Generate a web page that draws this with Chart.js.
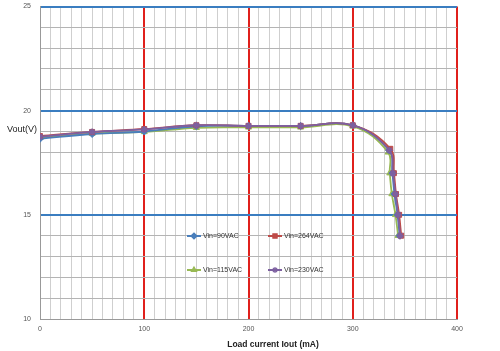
<!DOCTYPE html>
<html lang="en">
<head>
    <meta charset="UTF-8">
    <title>Vout vs Load current</title>
    <script src="https://cdn.jsdelivr.net/npm/chart.js@4.4.1/dist/chart.umd.min.js"></script>
    <style>
        html, body { margin: 0; padding: 0; background: #fff; }
        .chart-box { width: 500px; height: 351px; }
    </style>
</head>
<body>
    <div class="chart-box">
        <canvas id="voutChart"></canvas>
    </div>

    <script>
        // load current (mA) and output voltage (V) per input voltage
        const iout90 = [0, 50, 100, 150, 200, 250, 300, 335, 338, 340, 343, 345];
        const vout90 = [18.65, 18.88, 19.0, 19.25, 19.27, 19.27, 19.3, 18.1, 17.0, 16.0, 15.0, 14.0];
        const iout264 = [0, 50, 100, 150, 200, 250, 300, 336, 339.5, 341.5, 344.5, 346.5];
        const vout264 = [18.78, 18.98, 19.12, 19.3, 19.27, 19.27, 19.3, 18.17, 17.0, 16.0, 15.0, 14.0];
        const iout115 = [0, 50, 100, 150, 200, 250, 300, 334, 335.5, 337.5, 341, 343.5];
        const vout115 = [18.7, 18.9, 18.98, 19.18, 19.2, 19.2, 19.25, 18.0, 17.0, 16.0, 15.0, 14.0];
        const iout230 = [0, 50, 100, 150, 200, 250, 300, 335, 338.5, 341, 343.5, 345.5];
        const vout230 = [18.75, 18.98, 19.1, 19.3, 19.27, 19.27, 19.3, 18.1, 17.0, 16.0, 15.0, 14.0];
        const seriesLabels = ['Vin=90VAC', 'Vin=264VAC', 'Vin=115VAC', 'Vin=230VAC'];
        const xTicks = [0, 100, 200, 300, 400];
        const yTicks = [10, 15, 20, 25];

        function pts(xs, ys) {
            return xs.map((x, i) => ({ x: x, y: ys[i] }));
        }

        const styles = [
            { color: '#4a7ebb', point: 'rectRot', r: 3.5, order: 2 },
            { color: '#be4b48', point: 'rect', r: 3.5, order: 1 },
            { color: '#98b954', point: 'triangle', r: 3.5, order: 3 },
            { color: '#7d60a0', point: 'star', r: 3.5, order: 0 }
        ];
        const seriesData = [pts(iout90, vout90), pts(iout264, vout264), pts(iout115, vout115), pts(iout230, vout230)];

        const datasets = seriesData.map((d, i) => ({
            label: seriesLabels[i],
            data: d,
            borderColor: styles[i].color,
            backgroundColor: styles[i].color,
            pointStyle: styles[i].point,
            pointRadius: styles[i].r,
            pointBorderWidth: styles[i].point === 'star' ? 1.5 : 1,
            borderWidth: 1.8,
            tension: 0.4,
            order: styles[i].order
        }));

        // horizontal y title, x title and the 2x2 legend inside the plot
        const extras = {
            id: 'extras',
            afterDraw(chart) {
                const ctx = chart.ctx;
                ctx.save();
                ctx.fillStyle = '#222';
                ctx.font = '9px "Liberation Sans", Arial, sans-serif';
                ctx.textAlign = 'left';
                ctx.textBaseline = 'middle';
                ctx.fillText('Vout(V)', 7, 130);

                ctx.font = 'bold 8.5px "Liberation Sans", Arial, sans-serif';
                ctx.textAlign = 'center';
                ctx.fillText('Load current Iout (mA)', 273, 345);

                const spots = [[187, 236], [268, 236], [187, 270], [268, 270]];
                ctx.font = '7px "Liberation Sans", Arial, sans-serif';
                ctx.textAlign = 'left';
                spots.forEach((p, i) => {
                    const s = styles[i];
                    ctx.strokeStyle = s.color;
                    ctx.lineWidth = 2;
                    ctx.beginPath();
                    ctx.moveTo(p[0], p[1]);
                    ctx.lineTo(p[0] + 14, p[1]);
                    ctx.stroke();
                    ctx.fillStyle = s.color;
                    ctx.lineWidth = 1.2;
                    Chart.helpers.drawPoint(ctx, {
                        pointStyle: s.point, radius: 3, borderWidth: 1.2, rotation: 0
                    }, p[0] + 7, p[1]);
                    ctx.fillStyle = '#333';
                    ctx.fillText(seriesLabels[i], p[0] + 16, p[1] + 0.5);
                });
                ctx.restore();
            }
        };

        const ctx = document.getElementById('voutChart').getContext('2d');
        new Chart(ctx, {
            type: 'line',
            data: { datasets: datasets },
            plugins: [extras],
            options: {
                responsive: true,
                maintainAspectRatio: false,
                animation: false,
                layout: { padding: { top: 6.5, right: 43, left: 0, bottom: 0 } },
                plugins: { legend: { display: false }, tooltip: { enabled: false } },
                scales: {
                    x: {
                        type: 'linear',
                        min: 0,
                        max: 400,
                        afterFit(scale) { scale.height = 32; },
                        ticks: {
                            stepSize: 10,
                            autoSkip: false,
                            maxRotation: 0,
                            padding: 6,
                            color: '#555',
                            font: { size: 7, family: '"Liberation Sans", Arial, sans-serif' },
                            callback: v => xTicks.includes(v) ? String(v) : ''
                        },
                        grid: {
                            drawTicks: false,
                            color: c => xTicks.includes(c.tick.value) && c.tick.value > 0 ? '#e0201c' : '#cfcfcf',
                            lineWidth: c => xTicks.includes(c.tick.value) && c.tick.value > 0 ? 2 : 1
                        },
                        border: { color: '#999' }
                    },
                    y: {
                        min: 10,
                        max: 25,
                        afterFit(scale) {
                            scale.width = 40;
                            scale.paddingTop = 0;
                            scale.paddingBottom = 0;
                        },
                        ticks: {
                            stepSize: 1,
                            autoSkip: false,
                            padding: 9,
                            color: '#555',
                            font: { size: 7, family: '"Liberation Sans", Arial, sans-serif' },
                            callback: v => yTicks.includes(v) ? String(v) : ''
                        },
                        grid: {
                            drawTicks: false,
                            color: c => yTicks.includes(c.tick.value) && c.tick.value > 10 ? '#3a7dc0' : '#b4b4b4',
                            lineWidth: c => yTicks.includes(c.tick.value) && c.tick.value > 10 ? 2 : 1
                        },
                        border: { color: '#999' }
                    }
                }
            }
        });
    </script>
</body>
</html>
